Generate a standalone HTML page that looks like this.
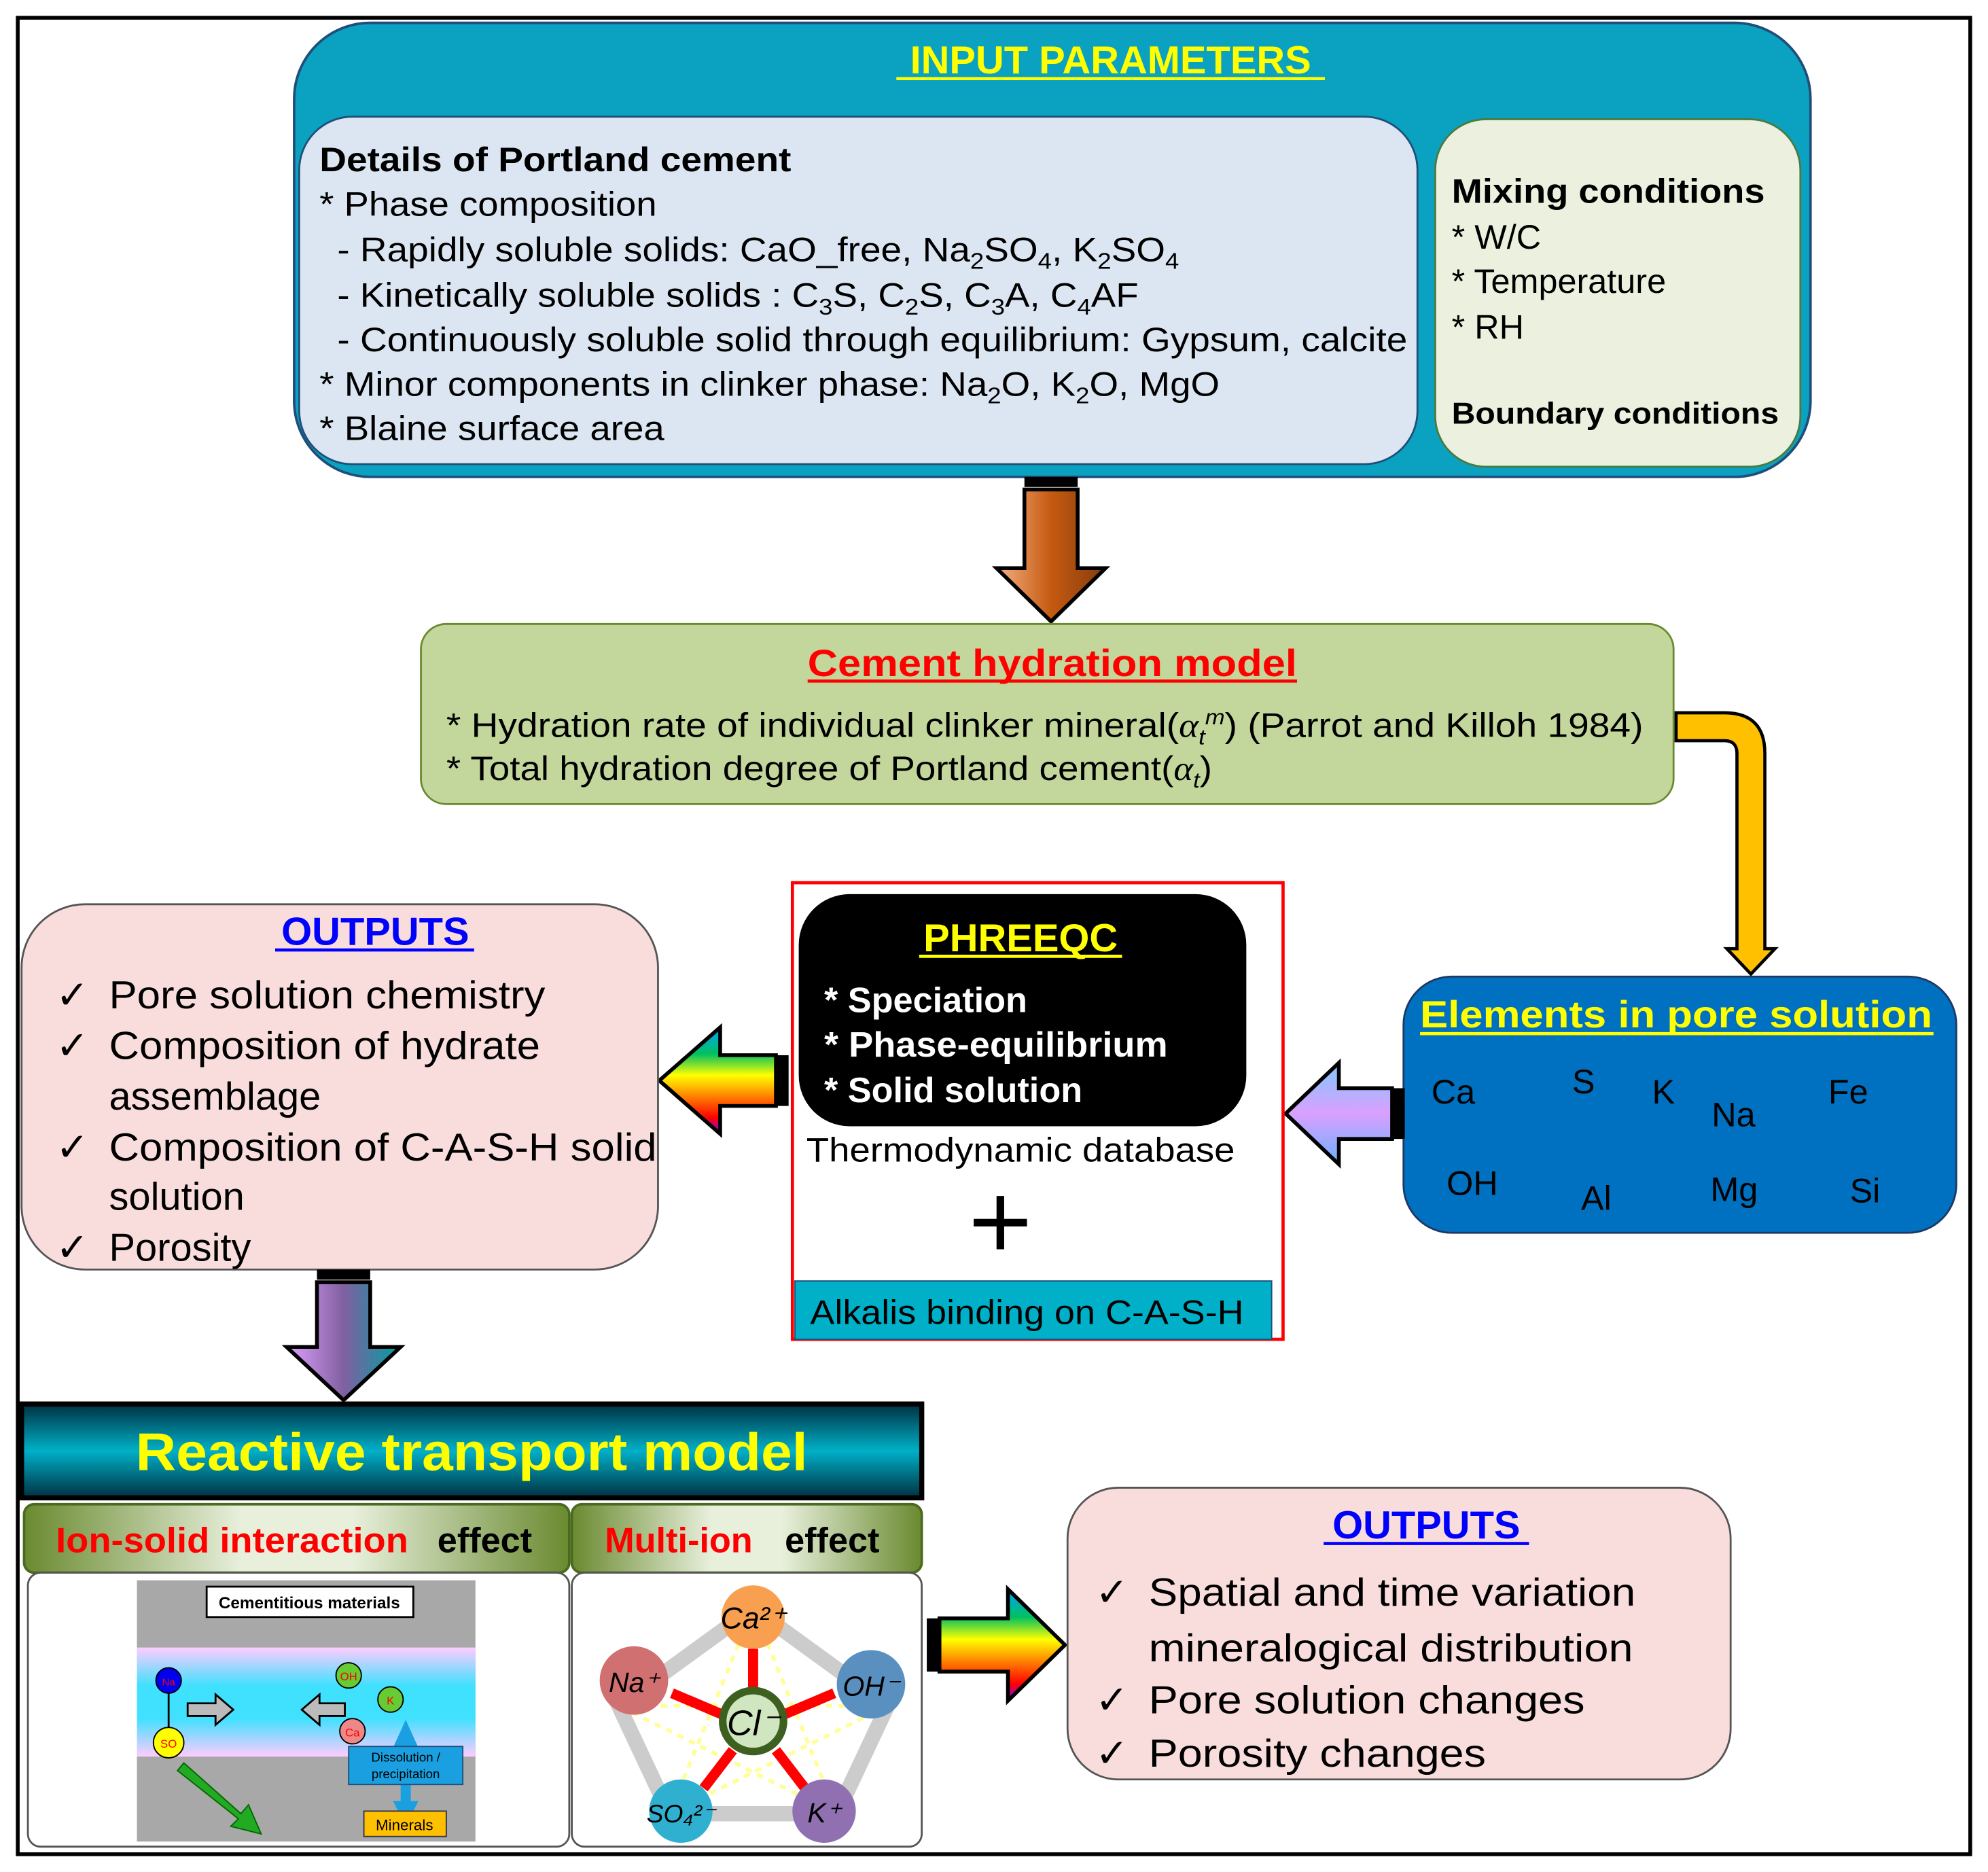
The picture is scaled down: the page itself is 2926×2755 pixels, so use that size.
<!DOCTYPE html>
<html><head><meta charset="utf-8"><style>html,body{margin:0;padding:0;background:#fff}svg{display:block}text{font-family:"Liberation Sans",Arial,sans-serif}</style></head><body>
<svg width="2926" height="2755" viewBox="0 0 1568 1476" preserveAspectRatio="none" xmlns="http://www.w3.org/2000/svg">
<defs>
<linearGradient id="brown" x1="0" y1="0" x2="1" y2="0"><stop offset="0" stop-color="#f4b183"/><stop offset="0.5" stop-color="#c55a11"/><stop offset="1" stop-color="#843c0c"/></linearGradient>
<linearGradient id="rainbowV" x1="0" y1="0" x2="0" y2="1"><stop offset="0" stop-color="#00a0ff"/><stop offset="0.25" stop-color="#00c060"/><stop offset="0.45" stop-color="#ffff00"/><stop offset="0.65" stop-color="#ff8000"/><stop offset="0.85" stop-color="#ff0000"/><stop offset="1" stop-color="#8000ff"/></linearGradient>
<linearGradient id="purple" x1="0" y1="0" x2="0" y2="1"><stop offset="0" stop-color="#80c8ff"/><stop offset="0.5" stop-color="#d9a0ff"/><stop offset="1" stop-color="#6ab0ff"/></linearGradient>
<linearGradient id="downgrad" x1="0" y1="0" x2="1" y2="0"><stop offset="0" stop-color="#e0a0ff"/><stop offset="0.5" stop-color="#8060a0"/><stop offset="1" stop-color="#00a0a0"/></linearGradient>
<linearGradient id="rtm" x1="0" y1="0" x2="0" y2="1"><stop offset="0" stop-color="#003040"/><stop offset="0.5" stop-color="#00b0c8"/><stop offset="1" stop-color="#003040"/></linearGradient>
<linearGradient id="green" x1="0" y1="0" x2="1" y2="0"><stop offset="0" stop-color="#6a8a30"/><stop offset="0.4" stop-color="#e8f0dc"/><stop offset="0.6" stop-color="#e8f0dc"/><stop offset="1" stop-color="#6a8a30"/></linearGradient>
<linearGradient id="cemband" x1="0" y1="0" x2="0" y2="1"><stop offset="0" stop-color="#ffccff"/><stop offset="0.35" stop-color="#40e0ff"/><stop offset="0.65" stop-color="#40e0ff"/><stop offset="1" stop-color="#ffccff"/></linearGradient>
</defs>
<rect x="0" y="0" width="1568" height="1476" fill="#fff"/>
<rect x="14" y="14" width="1540" height="1448" fill="none" stroke="#000" stroke-width="3"/>

<rect x="232" y="18" width="1196" height="358" rx="60" fill="#0aa2c0" stroke="#1f4e79" stroke-width="2"/>
<text x="876" y="58" font-size="31" font-weight="bold" fill="#ffff00" text-anchor="middle">INPUT PARAMETERS</text>
<line x1="707" y1="62" x2="1045" y2="62" stroke="#ffff00" stroke-width="2.5"/>
<rect x="236" y="92" width="882" height="274" rx="42" fill="#dce6f2" stroke="#1f4e79" stroke-width="1.5"/>
<g font-size="27" fill="#000">
<text x="252" y="135" font-weight="bold" textLength="372" lengthAdjust="spacingAndGlyphs">Details of Portland cement</text>
<text x="252" y="170" textLength="266" lengthAdjust="spacingAndGlyphs">* Phase composition</text>
<text x="266" y="206" textLength="664" lengthAdjust="spacingAndGlyphs">- Rapidly soluble solids: CaO_free, Na<tspan font-size="18" dy="6">2</tspan><tspan dy="-6">SO</tspan><tspan font-size="18" dy="6">4</tspan><tspan dy="-6">, K</tspan><tspan font-size="18" dy="6">2</tspan><tspan dy="-6">SO</tspan><tspan font-size="18" dy="6">4</tspan></text>
<text x="266" y="242" textLength="632" lengthAdjust="spacingAndGlyphs">- Kinetically soluble solids : C<tspan font-size="18" dy="6">3</tspan><tspan dy="-6">S, C</tspan><tspan font-size="18" dy="6">2</tspan><tspan dy="-6">S, C</tspan><tspan font-size="18" dy="6">3</tspan><tspan dy="-6">A, C</tspan><tspan font-size="18" dy="6">4</tspan><tspan dy="-6">AF</tspan></text>
<text x="266" y="277" textLength="844" lengthAdjust="spacingAndGlyphs">- Continuously soluble solid through equilibrium:  Gypsum,  calcite</text>
<text x="252" y="312" textLength="710" lengthAdjust="spacingAndGlyphs">* Minor components in clinker phase: Na<tspan font-size="18" dy="6">2</tspan><tspan dy="-6">O, K</tspan><tspan font-size="18" dy="6">2</tspan><tspan dy="-6">O, MgO</tspan></text>
<text x="252" y="347" textLength="272" lengthAdjust="spacingAndGlyphs">* Blaine surface area</text>
</g>
<rect x="1132" y="94" width="288" height="274" rx="40" fill="#ebf1de" stroke="#4a7a40" stroke-width="1.5"/>
<g font-size="27" fill="#000">
<text x="1145" y="160" font-weight="bold" textLength="247" lengthAdjust="spacingAndGlyphs">Mixing conditions</text>
<text x="1145" y="196">* W/C</text>
<text x="1145" y="231">* Temperature</text>
<text x="1145" y="267">* RH</text>
<text x="1145" y="334" font-size="24" font-weight="bold" textLength="258" lengthAdjust="spacingAndGlyphs">Boundary conditions</text>
</g>

<rect x="808" y="376" width="42" height="8" fill="#000"/>
<path d="M808,386 L850,386 L850,448 L872,448 L829,490 L786,448 L808,448 Z" fill="url(#brown)" stroke="#000" stroke-width="3"/>

<rect x="332" y="492" width="988" height="142" rx="20" fill="#c3d69b" stroke="#6a8a30" stroke-width="1.5"/>
<text x="830" y="533" font-size="30" font-weight="bold" fill="#ff0000" text-anchor="middle" textLength="386" lengthAdjust="spacingAndGlyphs">Cement hydration model</text>
<line x1="637" y1="537" x2="1023" y2="537" stroke="#ff0000" stroke-width="2.5"/>
<g font-size="27" fill="#000">
<text x="352" y="581" textLength="944" lengthAdjust="spacingAndGlyphs">* Hydration rate of individual clinker mineral(<tspan font-family="Liberation Serif" font-style="italic">α</tspan><tspan font-size="17" dy="6" font-style="italic">t</tspan><tspan font-size="17" dy="-16" font-style="italic">m</tspan><tspan dy="10">)  (Parrot and Killoh 1984)</tspan></text>
<text x="352" y="615" textLength="604" lengthAdjust="spacingAndGlyphs">* Total hydration degree of Portland cement(<tspan font-family="Liberation Serif" font-style="italic">α</tspan><tspan font-size="17" dy="6" font-style="italic">t</tspan><tspan dy="-6">)</tspan></text>
</g>

<path d="M1322,562 L1360,562 Q1392,562 1392,594 L1392,748 L1400,748 L1381,768 L1362,748 L1370,748 L1370,594 Q1370,584 1360,584 L1322,584 Z" fill="#ffc000" stroke="#000" stroke-width="2.5"/>

<rect x="1107" y="770" width="436" height="202" rx="38" fill="#0070c0" stroke="#1f3864" stroke-width="1.5"/>
<text x="1322" y="810" font-size="30" font-weight="bold" fill="#ffff00" text-anchor="middle" textLength="404" lengthAdjust="spacingAndGlyphs">Elements in pore solution</text>
<line x1="1120" y1="815" x2="1525" y2="815" stroke="#ffff00" stroke-width="2.5"/>
<g font-size="27" fill="#000">
<text x="1129" y="870">Ca</text><text x="1240" y="862">S</text><text x="1303" y="870">K</text><text x="1350" y="888">Na</text><text x="1442" y="870">Fe</text>
<text x="1141" y="942">OH</text><text x="1247" y="954">Al</text><text x="1349" y="947">Mg</text><text x="1459" y="948">Si</text>
</g>

<rect x="1098" y="858" width="10" height="40" fill="#000"/>
<path d="M1098,858 L1098,898 L1056,898 L1056,918 L1014,878 L1056,838 L1056,858 Z" fill="url(#purple)" stroke="#000" stroke-width="3"/>

<rect x="625" y="696" width="387" height="360" fill="#fff" stroke="#ff0000" stroke-width="2.5"/>
<rect x="630" y="705" width="353" height="183" rx="40" fill="#000"/>
<text x="805" y="750" font-size="31" font-weight="bold" fill="#ffff00" text-anchor="middle">PHREEQC</text>
<line x1="725" y1="754" x2="885" y2="754" stroke="#ffff00" stroke-width="2.5"/>
<g font-size="28" font-weight="bold" fill="#fff">
<text x="650" y="798">* Speciation</text>
<text x="650" y="833" textLength="271" lengthAdjust="spacingAndGlyphs">* Phase-equilibrium</text>
<text x="650" y="869">* Solid solution</text>
</g>
<text x="636" y="916" font-size="27" textLength="338" lengthAdjust="spacingAndGlyphs">Thermodynamic  database</text>
<rect x="786" y="943" width="6" height="42" fill="#000"/><rect x="768" y="961" width="42" height="6" fill="#000"/>
<rect x="627" y="1010" width="376" height="46" fill="#00b0c8" stroke="#1f4e79" stroke-width="1"/>
<text x="639" y="1044" font-size="27" textLength="342" lengthAdjust="spacingAndGlyphs">Alkalis binding on C-A-S-H</text>

<rect x="612" y="832" width="10" height="40" fill="#000"/>
<path d="M612,832 L612,872 L568,872 L568,894 L520,852 L568,810 L568,832 Z" fill="url(#rainbowV)" stroke="#000" stroke-width="3"/>

<rect x="17" y="713" width="502" height="288" rx="50" fill="#f9dddd" stroke="#555" stroke-width="1.5"/>
<text x="296" y="745" font-size="31" font-weight="bold" fill="#0000ff" text-anchor="middle">OUTPUTS</text>
<line x1="217" y1="749" x2="374" y2="749" stroke="#0000ff" stroke-width="2.5"/>
<g font-size="31" fill="#000">
<text x="44" y="795">✓</text><text x="86" y="795" textLength="344" lengthAdjust="spacingAndGlyphs">Pore solution chemistry</text>
<text x="44" y="835">✓</text><text x="86" y="835" textLength="340" lengthAdjust="spacingAndGlyphs">Composition of hydrate</text>
<text x="86" y="875">assemblage</text>
<text x="44" y="915">✓</text><text x="86" y="915" textLength="432" lengthAdjust="spacingAndGlyphs">Composition of C-A-S-H solid</text>
<text x="86" y="954">solution</text>
<text x="44" y="994">✓</text><text x="86" y="994">Porosity</text>
</g>

<rect x="250" y="1001" width="42" height="8" fill="#000"/>
<path d="M250,1011 L292,1011 L292,1062 L316,1062 L271,1104 L226,1062 L250,1062 Z" fill="url(#downgrad)" stroke="#000" stroke-width="3"/>

<rect x="17" y="1107" width="710" height="74" fill="url(#rtm)" stroke="#000" stroke-width="4"/>
<text x="372" y="1159" font-size="42" font-weight="bold" fill="#ffff00" text-anchor="middle" textLength="530" lengthAdjust="spacingAndGlyphs">Reactive transport model</text>
<rect x="19" y="1186" width="430" height="54" rx="8" fill="url(#green)" stroke="#4a6a20" stroke-width="2"/>
<rect x="451" y="1186" width="276" height="54" rx="8" fill="url(#green)" stroke="#4a6a20" stroke-width="2"/>
<text x="44" y="1224" font-size="28" font-weight="bold" fill="#ff0000" textLength="278" lengthAdjust="spacingAndGlyphs">Ion-solid interaction</text>
<text x="345" y="1224" font-size="28" font-weight="bold" fill="#000">effect</text>
<text x="477" y="1224" font-size="28" font-weight="bold" fill="#ff0000">Multi-ion</text>
<text x="619" y="1224" font-size="28" font-weight="bold" fill="#000">effect</text>
<rect x="22" y="1240" width="427" height="216" rx="10" fill="#fff" stroke="#555" stroke-width="1.5"/>
<rect x="451" y="1240" width="276" height="216" rx="10" fill="#fff" stroke="#555" stroke-width="1.5"/>

<rect x="108" y="1246" width="267" height="206" fill="#a8a8a8"/>
<rect x="108" y="1299" width="267" height="86" fill="url(#cemband)"/>
<rect x="163" y="1251" width="163" height="24" fill="#fff" stroke="#000" stroke-width="1.5"/>
<text x="244" y="1268" font-size="13" text-anchor="middle" font-weight="bold">Cementitious materials</text>
<circle cx="133" cy="1325" r="10" fill="#0000ee" stroke="#000"/><text x="133" y="1329" font-size="8" fill="#f00" text-anchor="middle">Na</text>
<line x1="133" y1="1335" x2="133" y2="1363" stroke="#000" stroke-width="1.5"/>
<circle cx="133" cy="1374" r="12" fill="#ffff00" stroke="#000"/><text x="133" y="1378" font-size="9" fill="#f00" text-anchor="middle">SO</text>
<path d="M148,1343 L170,1343 L170,1336 L184,1348 L170,1360 L170,1353 L148,1353 Z" fill="#bbb" stroke="#000" stroke-width="1.5"/>
<path d="M272,1343 L252,1343 L252,1336 L238,1348 L252,1360 L252,1353 L272,1353 Z" fill="#bbb" stroke="#000" stroke-width="1.5"/>
<circle cx="275" cy="1321" r="10" fill="#6c3" stroke="#000"/><text x="275" y="1325" font-size="9" fill="#f00" text-anchor="middle">OH</text>
<circle cx="308" cy="1340" r="10" fill="#6c3" stroke="#000"/><text x="308" y="1344" font-size="9" fill="#f00" text-anchor="middle">K</text>
<circle cx="278" cy="1365" r="10" fill="#e88" stroke="#000"/><text x="278" y="1369" font-size="9" fill="#f00" text-anchor="middle">Ca</text>
<path d="M145,1390 L190,1430 L196,1423 L206,1446 L182,1440 L188,1434 L140,1396 Z" fill="#2a2" stroke="#060"/>
<path d="M320,1356 L330,1378 L324,1378 L324,1420 L330,1420 L320,1440 L310,1420 L316,1420 L316,1378 L310,1378 Z" fill="#1aa0e0"/>
<rect x="275" y="1377" width="90" height="30" fill="#1aa0e0" stroke="#1f4e79"/>
<text x="320" y="1389" font-size="10" text-anchor="middle">Dissolution /</text><text x="320" y="1402" font-size="10" text-anchor="middle">precipitation</text>
<rect x="287" y="1428" width="65" height="20" fill="#ffc000" stroke="#334"/>
<text x="319" y="1443" font-size="12" text-anchor="middle">Minerals</text>

<path d="M594,1268 L700,1345 L660,1430 L528,1430 L488,1345 Z" fill="none" stroke="#ccc" stroke-width="12"/>
<path d="M594,1268 L660,1430 L488,1345 L700,1345 L528,1430 Z" fill="none" stroke="#ffff99" stroke-width="3" stroke-dasharray="5,5"/>
<g stroke="#f00" stroke-width="8"><line x1="594" y1="1300" x2="594" y2="1335"/><line x1="530" y1="1335" x2="570" y2="1352"/><line x1="658" y1="1335" x2="618" y2="1352"/><line x1="555" y1="1410" x2="578" y2="1380"/><line x1="635" y1="1410" x2="612" y2="1380"/></g>
<circle cx="594" cy="1357" r="24" fill="#cfe6c0" stroke="#3d6020" stroke-width="6"/><text x="594" y="1368" font-size="28" font-family="Liberation Serif" font-style="italic" text-anchor="middle">Cl⁻</text>
<circle cx="594" cy="1275" r="25" fill="#f9a050"/><text x="594" y="1284" font-size="24" font-family="Liberation Serif" font-style="italic" text-anchor="middle">Ca²⁺</text>
<circle cx="500" cy="1325" r="27" fill="#d07070"/><text x="500" y="1334" font-size="22" font-family="Liberation Serif" font-style="italic" text-anchor="middle">Na⁺</text>
<circle cx="687" cy="1328" r="27" fill="#5a90c0"/><text x="687" y="1337" font-size="22" font-family="Liberation Serif" font-style="italic" text-anchor="middle">OH⁻</text>
<circle cx="537" cy="1428" r="25" fill="#30b0d0"/><text x="537" y="1437" font-size="20" font-family="Liberation Serif" font-style="italic" text-anchor="middle">SO₄²⁻</text>
<circle cx="650" cy="1428" r="25" fill="#9070b0"/><text x="650" y="1437" font-size="22" font-family="Liberation Serif" font-style="italic" text-anchor="middle">K⁺</text>

<rect x="731" y="1276" width="10" height="42" fill="#000"/>
<path d="M741,1276 L795,1276 L795,1253 L840,1297 L795,1341 L795,1318 L741,1318 Z" fill="url(#rainbowV)" stroke="#000" stroke-width="3"/>

<rect x="842" y="1173" width="523" height="230" rx="40" fill="#f9dddd" stroke="#555" stroke-width="1.5"/>
<text x="1125" y="1213" font-size="31" font-weight="bold" fill="#0000ff" text-anchor="middle">OUTPUTS</text>
<line x1="1044" y1="1217" x2="1206" y2="1217" stroke="#0000ff" stroke-width="2.5"/>
<g font-size="31" fill="#000">
<text x="864" y="1266">✓</text><text x="906" y="1266" textLength="384" lengthAdjust="spacingAndGlyphs">Spatial and time variation</text>
<text x="906" y="1310" textLength="382" lengthAdjust="spacingAndGlyphs">mineralogical distribution</text>
<text x="864" y="1351">✓</text><text x="906" y="1351" textLength="344" lengthAdjust="spacingAndGlyphs">Pore solution changes</text>
<text x="864" y="1393">✓</text><text x="906" y="1393" textLength="266" lengthAdjust="spacingAndGlyphs">Porosity changes</text>
</g>
</svg>
</body></html>
